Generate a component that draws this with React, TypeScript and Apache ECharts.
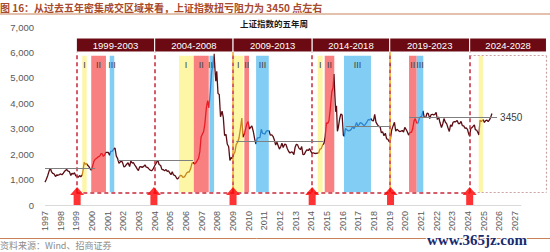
import React, { useEffect, useRef } from 'react';
import * as echarts from 'echarts';

// ---- data ----
const indexPoints: [number, number][] = [
  [1997.0, 900], [1997.08, 1000], [1997.17, 1150], [1997.27, 1350], [1997.35, 1440], [1997.42, 1300], [1997.5, 1240], [1997.58, 1220], [1997.67, 1120], [1997.75, 1180], [1997.83, 1170], [1997.92, 1194],
  [1998.0, 1222], [1998.08, 1190], [1998.17, 1250], [1998.27, 1340], [1998.38, 1400], [1998.45, 1339], [1998.55, 1316], [1998.65, 1160], [1998.72, 1250], [1998.8, 1215], [1998.88, 1270], [1998.96, 1147],
  [1999.04, 1134], [1999.12, 1090], [1999.2, 1158], [1999.28, 1110], [1999.38, 1180], [1999.45, 1450], [1999.5, 1680], [1999.58, 1600], [1999.65, 1627], [1999.72, 1560], [1999.8, 1514], [1999.88, 1422], [1999.96, 1367],
  [2000.04, 1535], [2000.12, 1714], [2000.2, 1800], [2000.3, 1836], [2000.4, 1894], [2000.5, 1928], [2000.58, 2023], [2000.66, 2010], [2000.72, 1911], [2000.8, 1961], [2000.88, 2070], [2000.96, 2073],
  [2001.04, 2065], [2001.12, 1959], [2001.2, 2112], [2001.3, 2119], [2001.4, 2214], [2001.47, 2235], [2001.55, 1920], [2001.63, 1834], [2001.72, 1642], [2001.8, 1690], [2001.88, 1746], [2001.96, 1646],
  [2002.04, 1491], [2002.12, 1525], [2002.2, 1594], [2002.3, 1663], [2002.4, 1514], [2002.48, 1733], [2002.56, 1651], [2002.64, 1668], [2002.72, 1581], [2002.8, 1507], [2002.88, 1419], [2002.96, 1358],
  [2003.04, 1500], [2003.12, 1511], [2003.2, 1481], [2003.3, 1520], [2003.38, 1576], [2003.46, 1487], [2003.55, 1477], [2003.63, 1422], [2003.72, 1367], [2003.8, 1349], [2003.88, 1398], [2003.96, 1497],
  [2004.04, 1590], [2004.12, 1675], [2004.2, 1760], [2004.28, 1595], [2004.38, 1555], [2004.46, 1399], [2004.55, 1386], [2004.63, 1342], [2004.72, 1396], [2004.8, 1320], [2004.88, 1340], [2004.96, 1266],
  [2005.04, 1191], [2005.12, 1306], [2005.2, 1181], [2005.3, 1159], [2005.4, 1060], [2005.45, 1020], [2005.55, 1083], [2005.63, 1162], [2005.72, 1155], [2005.8, 1092], [2005.88, 1099], [2005.96, 1161],
  [2006.04, 1258], [2006.12, 1299], [2006.2, 1298], [2006.3, 1440], [2006.38, 1641], [2006.46, 1672], [2006.55, 1612], [2006.63, 1658], [2006.72, 1752], [2006.8, 1837], [2006.88, 2099], [2006.96, 2675],
  [2007.04, 2786], [2007.12, 2881], [2007.2, 3183], [2007.3, 3841], [2007.38, 4109], [2007.46, 3820], [2007.55, 4471], [2007.63, 5218], [2007.72, 5552], [2007.79, 5950], [2007.85, 5300], [2007.9, 4871], [2007.96, 5261],
  [2008.04, 4383], [2008.12, 4348], [2008.2, 3472], [2008.3, 3693], [2008.38, 3433], [2008.46, 2736], [2008.55, 2775], [2008.63, 2397], [2008.72, 2293], [2008.8, 1750], [2008.88, 1871], [2008.96, 1821],
  [2009.04, 1991], [2009.12, 2082], [2009.2, 2373], [2009.3, 2477], [2009.38, 2633], [2009.46, 2959], [2009.56, 3420], [2009.63, 2667], [2009.72, 2779], [2009.8, 2996], [2009.88, 3195], [2009.96, 3277],
  [2010.04, 2989], [2010.12, 3051], [2010.2, 3110], [2010.3, 2871], [2010.38, 2592], [2010.46, 2398], [2010.55, 2638], [2010.63, 2639], [2010.72, 2656], [2010.8, 2979], [2010.88, 2820], [2010.96, 2808],
  [2011.04, 2790], [2011.12, 2905], [2011.2, 2928], [2011.3, 2911], [2011.38, 2743], [2011.46, 2762], [2011.55, 2701], [2011.63, 2568], [2011.72, 2359], [2011.8, 2468], [2011.88, 2333], [2011.96, 2199],
  [2012.04, 2292], [2012.12, 2428], [2012.2, 2262], [2012.3, 2396], [2012.38, 2372], [2012.46, 2225], [2012.55, 2103], [2012.63, 2047], [2012.72, 2086], [2012.8, 2069], [2012.88, 1980], [2012.96, 2269],
  [2013.04, 2385], [2013.12, 2365], [2013.2, 2237], [2013.3, 2177], [2013.38, 2300], [2013.46, 1979], [2013.55, 1994], [2013.63, 2098], [2013.72, 2175], [2013.8, 2141], [2013.88, 2220], [2013.96, 2116],
  [2014.04, 2033], [2014.12, 2056], [2014.2, 2033], [2014.3, 2026], [2014.38, 2039], [2014.46, 2048], [2014.55, 2202], [2014.63, 2217], [2014.72, 2364], [2014.8, 2420], [2014.88, 2683], [2014.96, 3235],
  [2015.04, 3210], [2015.12, 3310], [2015.2, 3748], [2015.3, 4442], [2015.38, 4612], [2015.44, 5150], [2015.5, 4277], [2015.55, 3664], [2015.6, 3900], [2015.66, 2900], [2015.72, 3053], [2015.8, 3383], [2015.88, 3580], [2015.96, 3539],
  [2016.04, 2738], [2016.1, 2700], [2016.17, 3004], [2016.3, 2938], [2016.38, 2917], [2016.46, 2930], [2016.55, 2979], [2016.63, 3085], [2016.72, 3005], [2016.8, 3100], [2016.88, 3250], [2016.96, 3104],
  [2017.04, 3159], [2017.12, 3242], [2017.2, 3223], [2017.3, 3155], [2017.38, 3117], [2017.46, 3192], [2017.55, 3273], [2017.63, 3361], [2017.72, 3349], [2017.8, 3393], [2017.88, 3317], [2017.96, 3307],
  [2018.04, 3560], [2018.12, 3259], [2018.2, 3169], [2018.3, 3082], [2018.38, 3095], [2018.46, 2847], [2018.55, 2876], [2018.63, 2725], [2018.72, 2821], [2018.8, 2603], [2018.88, 2588], [2018.96, 2494],
  [2019.04, 2585], [2019.12, 2941], [2019.2, 3091], [2019.3, 3250], [2019.38, 2899], [2019.46, 2979], [2019.55, 2933], [2019.63, 2886], [2019.72, 2905], [2019.8, 2929], [2019.88, 2871], [2019.96, 3050],
  [2020.04, 2977], [2020.12, 2880], [2020.2, 2750], [2020.3, 2860], [2020.38, 2852], [2020.46, 2985], [2020.55, 3310], [2020.63, 3396], [2020.72, 3218], [2020.8, 3225], [2020.88, 3392], [2020.96, 3473],
  [2021.04, 3483], [2021.12, 3700], [2021.2, 3442], [2021.3, 3447], [2021.38, 3615], [2021.46, 3591], [2021.55, 3397], [2021.63, 3544], [2021.72, 3568], [2021.8, 3547], [2021.88, 3564], [2021.96, 3640],
  [2022.04, 3361], [2022.12, 3462], [2022.2, 3252], [2022.3, 3047], [2022.38, 3186], [2022.46, 3399], [2022.55, 3253], [2022.63, 3202], [2022.72, 3024], [2022.8, 2893], [2022.88, 3151], [2022.96, 3089],
  [2023.04, 3255], [2023.12, 3280], [2023.2, 3273], [2023.3, 3323], [2023.38, 3205], [2023.46, 3202], [2023.55, 3291], [2023.63, 3120], [2023.72, 3110], [2023.8, 3018], [2023.88, 3030], [2023.96, 2975],
  [2024.04, 2789], [2024.1, 2700], [2024.17, 3015], [2024.25, 3041], [2024.33, 3105], [2024.4, 3150], [2024.46, 2967], [2024.55, 2939], [2024.63, 2842], [2024.69, 2750], [2024.76, 3336], [2024.84, 3279], [2024.9, 3326], [2024.96, 3352],
  [2025.04, 3250], [2025.12, 3321], [2025.2, 3336], [2025.28, 3279], [2025.36, 3347], [2025.44, 3444], [2025.52, 3600],
];

const periodLabels = ['1999-2003', '2004-2008', '2009-2013', '2014-2018', '2019-2023', '2024-2028'];
const periodBounds = [1999.0, 2004.0, 2009.0, 2014.05, 2019.0, 2024.1, 2029.0];
const arrowYears = [1999.05, 2003.95, 2009.0, 2014.05, 2019.05, 2024.1];

// phase bands: [start, end, label]
const phaseI: [number, number, string][] = [[1999.38, 1999.66, 'I'], [2005.55, 2006.46, 'I'], [2009.0, 2009.65, 'I'], [2014.4, 2014.72, 'I'], [2018.98, 2019.08, 'I'], [2024.68, 2024.94, '']];
const phaseII: [number, number, string][] = [[1999.95, 2000.89, 'II'], [2006.49, 2007.45, 'II'], [2009.72, 2010.02, 'II'], [2014.85, 2015.46, 'II'], [2020.23, 2020.72, 'II']];
const phaseIII: [number, number, string][] = [[2001.13, 2001.42, 'III'], [2007.49, 2007.79, 'III'], [2010.47, 2011.28, 'III'], [2016.08, 2017.8, 'III'], [2020.72, 2021.14, 'III']];

// resistance levels: [start, end, level]
const resistance: [number, number, number][] = [
  [1997.0, 2000.2, 1450], [2001.6, 2006.45, 1750], [2009.2, 2014.75, 2510], [2016.2, 2019.05, 3090], [2020.25, 2025.85, 3450],
];

const yearLabelsMax = 2027;
const bandBottom = 500;
const bandTop = 5870;
const headerBottom = 6017;
const headerTop = 6567;

const C_BASE = '#5a0c12';
const C_I_LINE = '#c8861e';
const C_II_LINE = '#e81c24';
const C_III_LINE = '#2a86d0';
const C_I_BAND = '#fdf6a6';
const C_II_BAND = '#f98080';
const C_III_BAND = '#82cdf4';
const C_HEADER = '#6b0a12';
const C_DASH = '#c8283a';

export default function App() {
  const ref = useRef<HTMLDivElement>(null);
  useEffect(() => {
    if (!ref.current) return;
    const chart = echarts.init(ref.current, null, { renderer: 'svg' });

    const pieces: any[] = [];
    phaseI.forEach(([a, b]) => pieces.push({ gte: a, lt: b, color: C_I_LINE }));
    phaseII.forEach(([a, b]) => pieces.push({ gte: a, lt: b, color: C_II_LINE }));
    phaseIII.forEach(([a, b]) => pieces.push({ gte: a, lt: b, color: C_III_LINE }));
    pieces.sort((p, q) => p.gte - q.gte);

    const band = (arr: [number, number, string][], color: string) =>
      arr.map(([a, b, label]) => [
        { xAxis: a, yAxis: bandBottom, itemStyle: { color }, label: { show: label !== '', formatter: label } },
        { xAxis: b, yAxis: bandTop },
      ]);

    const headerData = periodLabels.map((name, i) => [
      {
        xAxis: periodBounds[i], yAxis: headerBottom, name,
        itemStyle: { color: C_HEADER, borderColor: '#ffffff', borderWidth: 1 },
      },
      { xAxis: periodBounds[i + 1], yAxis: headerTop },
    ]);

    const dashedV = periodBounds.slice(0, 6).map((x) => [
      { coord: [x, bandBottom] },
      { coord: [x, headerBottom] },
    ]);
    const orangeV = [periodBounds[2], periodBounds[4]].map((x) => [
      { coord: [x, bandBottom], lineStyle: { color: '#f2a531', type: [4, 3], dashOffset: 3.5, width: 1.5 } },
      { coord: [x, headerBottom] },
    ]);
    const bottomDash = [[{ coord: [periodBounds[0], bandBottom] }, { coord: [periodBounds[5], bandBottom] }]];
    const lastBox = [
      [{ coord: [periodBounds[5], bandTop] }, { coord: [periodBounds[6], bandTop] }],
      [{ coord: [periodBounds[6], bandTop] }, { coord: [periodBounds[6], bandBottom] }],
      [{ coord: [periodBounds[5], bandBottom] }, { coord: [periodBounds[6], bandBottom] }],
    ].map((seg) => [
      { ...seg[0], lineStyle: { color: '#c9a3a3', type: [2, 2], width: 1.2 } },
      seg[1],
    ]);

    const resistanceData = resistance.map(([a, b, v], i) => [
      {
        coord: [a, v],
        label: i === resistance.length - 1
          ? { show: true, position: 'end', formatter: String(v), color: '#404040', fontSize: 10, distance: 3 }
          : { show: false },
      },
      { coord: [b, v] },
    ]);

    const option: any = {
      animation: false,
      textStyle: { fontFamily: '"Liberation Sans", Arial, sans-serif' },
      grid: { left: 45, right: 0.4, top: 27, bottom: 47 },
      xAxis: {
        type: 'value', min: 1997, max: 2029.2, interval: 1,
        axisLine: { show: false }, axisTick: { show: false }, splitLine: { show: false },
        axisLabel: {
          rotate: 90, fontSize: 9, color: '#595959', margin: 6,
          formatter: (v: number) => (v <= yearLabelsMax ? String(v) : ''),
        },
      },
      yAxis: {
        type: 'value', min: 0, max: 7000, interval: 1000,
        axisLine: { show: false }, axisTick: { show: false }, splitLine: { show: false },
        axisLabel: { fontSize: 9.5, color: '#595959', margin: 11, formatter: (v: number) => v.toLocaleString('en-US') },
      },
      visualMap: {
        show: false, type: 'piecewise', seriesIndex: 0, dimension: 0,
        pieces, outOfRange: { color: C_BASE },
      },
      series: [
        {
          type: 'line', data: indexPoints, showSymbol: false, symbol: 'none', z: 4,
          lineStyle: { width: 1.3 },
        },
        {
          type: 'line', data: [], z: 1, silent: true,
          markArea: {
            silent: true,
            label: { position: 'insideTop', distance: 5, color: '#404040', fontSize: 9 },
            data: [
              ...band(phaseI, C_I_BAND),
              ...band(phaseII, C_II_BAND),
              ...band(phaseIII, C_III_BAND),
            ],
          },
        },
        {
          type: 'line', data: [], z: 2, silent: true,
          markArea: {
            silent: true,
            label: { show: true, position: 'inside', color: '#ffffff', fontSize: 9.5 },
            data: headerData,
          },
        },
        {
          type: 'line', data: [], z: 3, silent: true,
          markLine: {
            silent: true, symbol: ['none', 'none'],
            label: { show: false },
            lineStyle: { color: C_DASH, type: [4, 3], width: 1.5 },
            data: [...dashedV, ...orangeV, ...bottomDash, ...lastBox],
          },
        },
        {
          type: 'line', data: [], z: 5, silent: true,
          markLine: {
            silent: true, symbol: ['none', 'none'],
            label: { show: false },
            lineStyle: { color: '#7f7f7f', type: 'solid', width: 1.2 },
            data: [
              ...resistanceData,
              [{ coord: [1997, 0], lineStyle: { color: '#d9d9d9', width: 1 } }, { coord: [2027.4, 0] }],
            ],
          },
        },
        {
          type: 'scatter', z: 6, silent: true,
          data: arrowYears.map((y) => [y, 0]),
          symbol: 'path://M7,0 L14,8 L10.5,8 L10.5,18 L3.5,18 L3.5,8 L0,8 Z',
          symbolSize: [14, 18], symbolOffset: [0, -9],
          itemStyle: { color: '#ff0000' },
        },
      ],
      graphic: [
        {
          type: 'text', x: 0, y: 7,
          style: {
            text: '图 16：从过去五年密集成交区域来看，上证指数扭亏阻力为 3450 点左右',
            fill: '#a84a2c', fontSize: 10, fontWeight: 'bold', fontFamily: '"Noto Sans CJK SC"',
            textVerticalAlign: 'middle',
          },
        },
        { type: 'line', shape: { x1: 0, y1: 14, x2: 550, y2: 14 }, style: { stroke: '#c8825a', lineWidth: 1 } },
        {
          type: 'text', x: 274, y: 23,
          style: {
            text: '上证指数的五年周', fill: '#1a1a1a', fontSize: 8.5, fontWeight: 'bold',
            fontFamily: '"Noto Sans CJK SC"', textAlign: 'center', textVerticalAlign: 'middle',
          },
        },
        { type: 'line', shape: { x1: 0, y1: 238.5, x2: 550, y2: 238.5 }, style: { stroke: '#c8825a', lineWidth: 1 } },
        {
          type: 'text', x: 0, y: 241,
          style: { text: '资料来源：Wind、招商证券', fill: '#8c8c8c', fontSize: 9, fontFamily: '"Noto Sans CJK SC"' },
        },
        {
          type: 'text', x: 427, y: 232,
          style: {
            text: 'www.365jz.com', fill: '#1b2a6e', fontSize: 15, fontWeight: 'bold',
            fontFamily: '"Liberation Serif", serif', stroke: '#ffffff', lineWidth: 2,
          },
        },
      ],
    };

    chart.setOption(option);
    return () => chart.dispose();
  }, []);

  return (
    <div
      ref={ref}
      style={{ position: 'fixed', left: 0, top: 0, width: 550, height: 252, background: '#ffffff' }}
    />
  );
}
